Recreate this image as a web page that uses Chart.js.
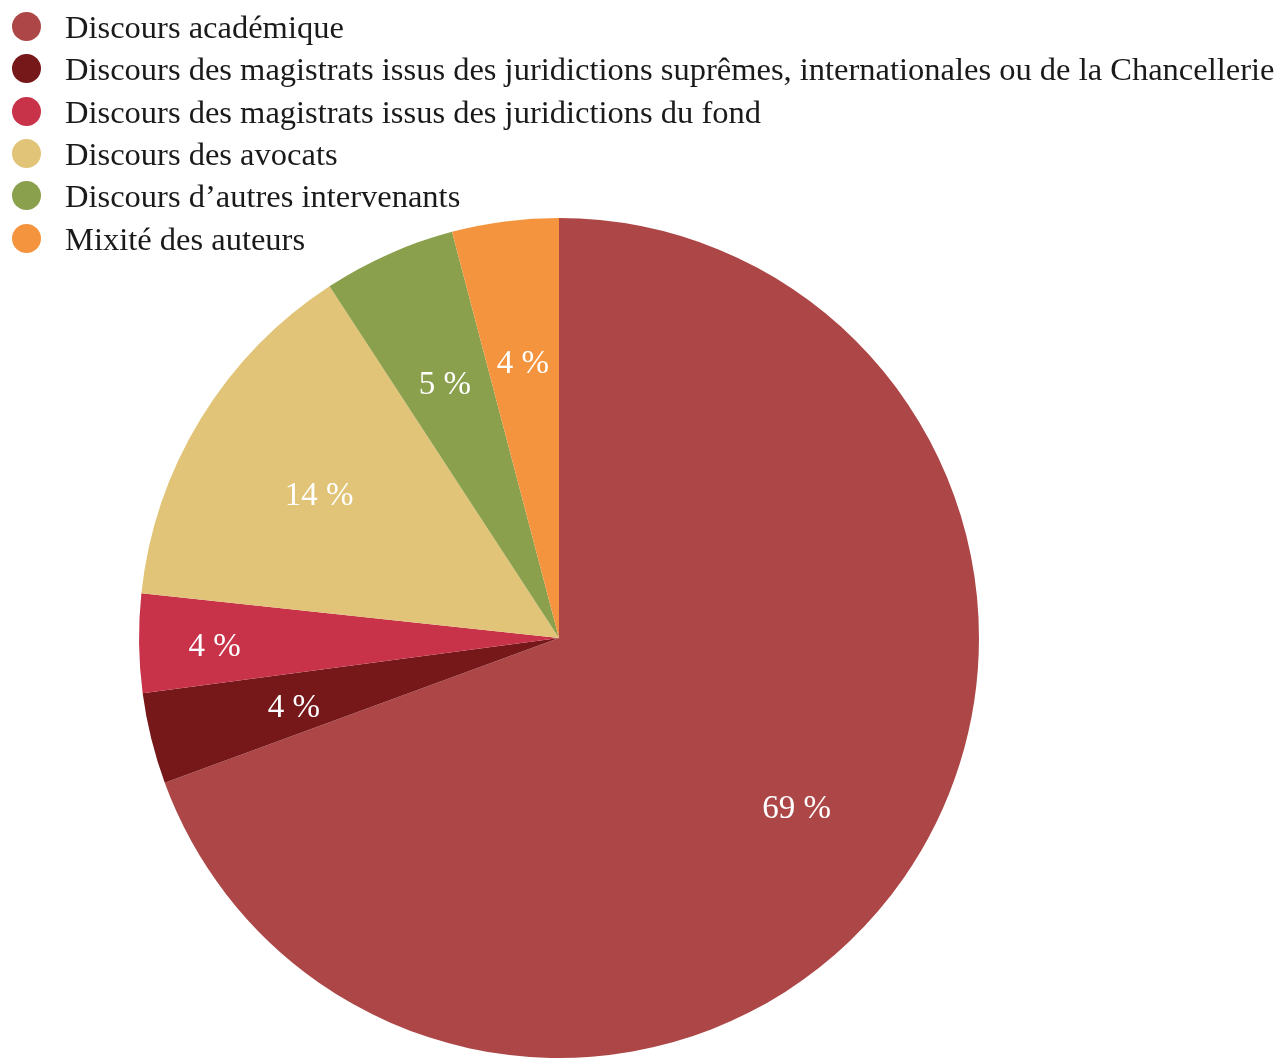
<!DOCTYPE html>
<html>
<head>
<meta charset="utf-8">
<script src="https://cdn.jsdelivr.net/npm/chart.js@4.4.1/dist/chart.umd.min.js"></script>
<style>
  html, body { margin: 0; padding: 0; background: #fff; }
  #wrap { position: relative; width: 1283px; height: 1058px; }
  #legend { position: absolute; left: 0; top: 0; font-family: "Liberation Serif", serif; font-size: 32.5px; color: #1a1a1a; }
  .row { position: absolute; left: 0; height: 42px; white-space: nowrap; }
  .dot { position: absolute; left: 12px; top: 0; width: 29px; height: 29px; border-radius: 50%; }
  .txt { position: absolute; left: 65px; top: -3px; line-height: 36px; }
</style>
</head>
<body>
<div id="wrap">
  <canvas id="pie" width="1283" height="1058"></canvas>
  <div id="legend"></div>
</div>
<script>
const categories = [
    'Discours académique',
    'Discours des magistrats issus des juridictions suprêmes, internationales ou de la Chancellerie',
    'Discours des magistrats issus des juridictions du fond',
    'Discours des avocats',
    'Discours d\u2019autres intervenants',
    'Mixité des auteurs'
];
const shares = [69.4, 3.5, 3.8, 14.1, 5.1, 4.1];
const colors = ['#ad4747', '#76171a', '#c8334a', '#e1c477', '#8ba04c', '#f5943f'];

// labels inside the slices, placed at a fraction of the radius
const sliceLabels = {
    id: 'sliceLabels',
    afterDatasetsDraw(chart, args, opts) {
        const ctx = chart.ctx;
        const meta = chart.getDatasetMeta(0);
        ctx.save();
        ctx.font = '33px "Liberation Serif", serif';
        ctx.fillStyle = '#fff';
        ctx.textAlign = 'center';
        ctx.textBaseline = 'middle';
        meta.data.forEach((arc, i) => {
            const mid = (arc.startAngle + arc.endAngle) / 2;
            const f = (opts.offsets && opts.offsets[i]) || 0.67;
            const x = arc.x + Math.cos(mid) * arc.outerRadius * f;
            const y = arc.y + Math.sin(mid) * arc.outerRadius * f;
            ctx.fillText(Math.round(shares[i]) + ' %', x, y + 5);
        });
        ctx.restore();
    }
};

const chart = new Chart(document.getElementById('pie').getContext('2d'), {
    type: 'pie',
    data: {
        labels: categories,
        datasets: [{data: shares, backgroundColor: colors, borderWidth: 0}]
    },
    options: {
        responsive: false,
        animation: false,
        layout: {padding: {top: 218, bottom: 0, left: 139, right: 304}},
        plugins: {
            legend: {display: false},
            tooltip: {enabled: false},
            sliceLabels: {offsets: {2: 0.82, 1: 0.65, 0: 0.69}}
        }
    },
    plugins: [sliceLabels]
});

const legend = document.getElementById('legend');
categories.forEach((c, i) => {
    const row = document.createElement('div');
    row.className = 'row';
    row.style.top = (12 + i * 42.3) + 'px';
    row.innerHTML = `<span class="dot" style="background:${colors[i]}"></span><span class="txt">${c}</span>`;
    legend.appendChild(row);
});
</script>
</body>
</html>
